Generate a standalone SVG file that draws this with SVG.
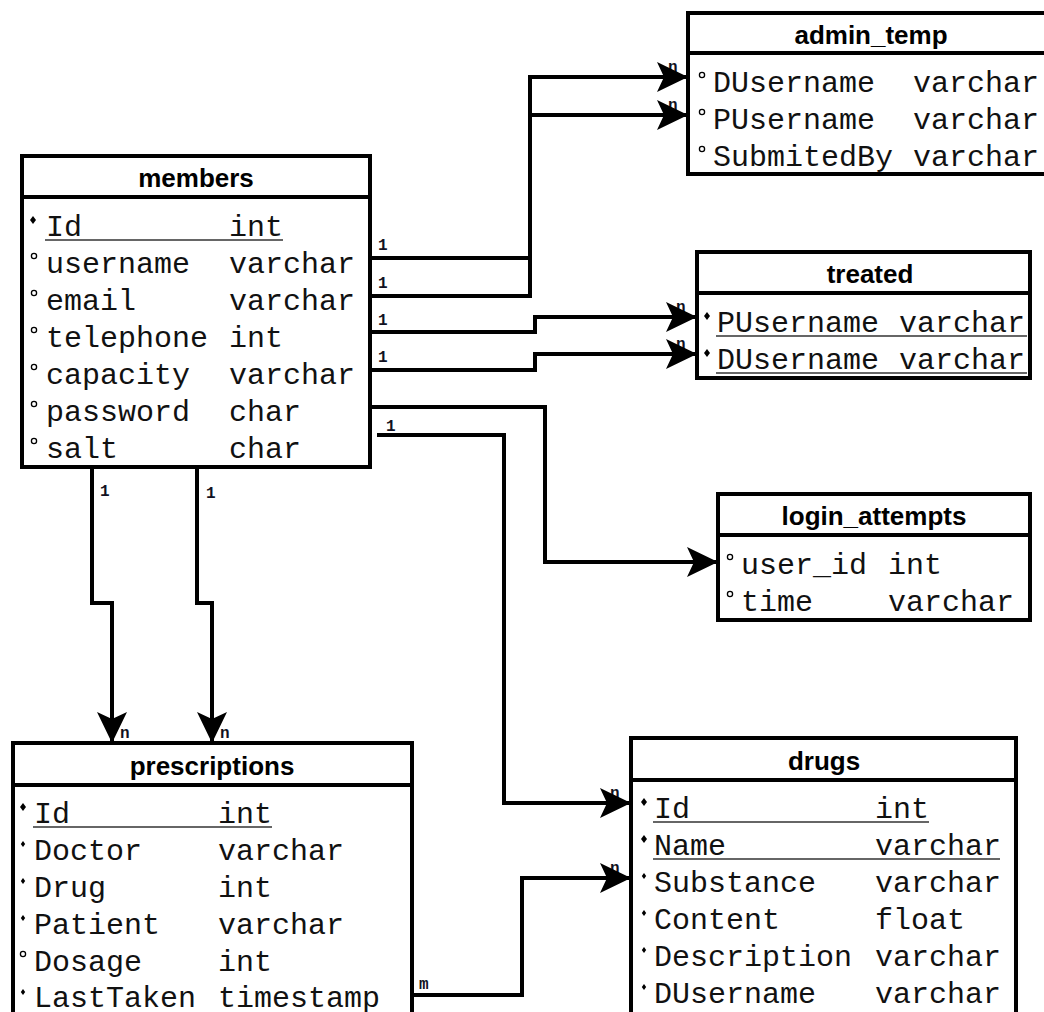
<svg xmlns="http://www.w3.org/2000/svg" width="1044" height="1012" viewBox="0 0 1044 1012">
<style>
.box{fill:#fff;stroke:#000;stroke-width:4}
.sep{stroke:#000;stroke-width:4}
.title{font-family:"Liberation Sans",Arial,sans-serif;font-weight:bold;font-size:26px;fill:#000;text-anchor:middle}
.row{font-family:"Liberation Mono","Courier New",monospace;font-size:30px;fill:#111}
.ul{stroke:#333;stroke-width:1.5}
.pk{fill:#000}
.nn{fill:#000}
.nul{fill:none;stroke:#000;stroke-width:1.3}
.conn{fill:none;stroke:#000;stroke-width:4}
.lbl{font-family:"Liberation Mono","Courier New",monospace;font-weight:bold;font-size:16px;fill:#112}
</style>
<defs>
<marker id="ah" markerUnits="userSpaceOnUse" markerWidth="34" markerHeight="32" refX="32" refY="16" orient="auto">
<path d="M32,16 L1,1 L8,16 L1,31 Z" fill="#000"/>
</marker>
<path id="dia" d="M0,-4 L3,0 L0,4 L-3,0 Z"/>
<path id="sdia" d="M0,-3 L2.2,0 L0,3 L-2.2,0 Z"/>
</defs>

<g id="labels">
<text class="lbl" x="378" y="250">1</text>
<text class="lbl" x="378" y="288">1</text>
<text class="lbl" x="378" y="325">1</text>
<text class="lbl" x="378" y="362">1</text>
<text class="lbl" x="386" y="431">1</text>
<text class="lbl" x="100" y="496">1</text>
<text class="lbl" x="206" y="498">1</text>
<text class="lbl" x="120" y="738">n</text>
<text class="lbl" x="220" y="738">n</text>
<text class="lbl" x="419" y="989">m</text>
<text class="lbl" x="668" y="72">n</text>
<text class="lbl" x="668" y="110">n</text>
<text class="lbl" x="676" y="312">n</text>
<text class="lbl" x="676" y="349">n</text>
<text class="lbl" x="610" y="798">n</text>
<text class="lbl" x="610" y="873">n</text>
</g>

<g id="connectors">
<path class="conn" d="M370,258 H530 V77 H688" marker-end="url(#ah)"/>
<path class="conn" d="M370,296 H530 V115 H688" marker-end="url(#ah)"/>
<path class="conn" d="M370,332 H535 V317 H697" marker-end="url(#ah)"/>
<path class="conn" d="M370,370 H535 V354 H697" marker-end="url(#ah)"/>
<path class="conn" d="M370,407 H545 V562 H718" marker-end="url(#ah)"/>
<path class="conn" d="M377,435 H504 V803 H631" marker-end="url(#ah)"/>
<path class="conn" d="M92,467 V603 H112 V743" marker-end="url(#ah)"/>
<path class="conn" d="M197,467 V603 H212 V743" marker-end="url(#ah)"/>
<path class="conn" d="M412,995 H522 V878 H631" marker-end="url(#ah)"/>
</g>

<g id="members">
<rect class="box" x="22" y="156" width="348" height="311"/>
<line class="sep" x1="22" y1="197" x2="370" y2="197"/>
<text class="title" x="196" y="187">members</text>
<use href="#dia" x="33" y="220" class="pk"/>
<text class="row" x="46" y="236">Id</text><text class="row" x="229" y="236">int</text>
<line class="ul" x1="45" y1="240" x2="283" y2="240"/>
<circle class="nul" cx="34" cy="256" r="2.6"/>
<text class="row" x="46" y="273">username</text><text class="row" x="229" y="273">varchar</text>
<circle class="nul" cx="34" cy="293" r="2.6"/>
<text class="row" x="46" y="310">email</text><text class="row" x="229" y="310">varchar</text>
<circle class="nul" cx="34" cy="330" r="2.6"/>
<text class="row" x="46" y="347">telephone</text><text class="row" x="229" y="347">int</text>
<circle class="nul" cx="34" cy="367" r="2.6"/>
<text class="row" x="46" y="384">capacity</text><text class="row" x="229" y="384">varchar</text>
<circle class="nul" cx="34" cy="404" r="2.6"/>
<text class="row" x="46" y="421">password</text><text class="row" x="229" y="421">char</text>
<circle class="nul" cx="34" cy="441" r="2.6"/>
<text class="row" x="46" y="458">salt</text><text class="row" x="229" y="458">char</text>
</g>

<g id="admin_temp">
<rect class="box" x="688" y="13" width="370" height="161"/>
<line class="sep" x1="688" y1="53" x2="1058" y2="53"/>
<text class="title" x="871" y="44">admin_temp</text>
<circle class="nul" cx="702" cy="75" r="2.6"/>
<text class="row" x="713" y="92">DUsername</text><text class="row" x="913" y="92">varchar</text>
<circle class="nul" cx="702" cy="112" r="2.6"/>
<text class="row" x="713" y="129">PUsername</text><text class="row" x="913" y="129">varchar</text>
<circle class="nul" cx="702" cy="149" r="2.6"/>
<text class="row" x="713" y="166">SubmitedBy</text><text class="row" x="913" y="166">varchar</text>
</g>

<g id="treated">
<rect class="box" x="697" y="252" width="333" height="126"/>
<line class="sep" x1="697" y1="293" x2="1030" y2="293"/>
<text class="title" x="870" y="283">treated</text>
<use href="#dia" x="707" y="316" class="pk"/>
<text class="row" x="717" y="332">PUsername</text><text class="row" x="899" y="332">varchar</text>
<line class="ul" x1="716" y1="336" x2="1027" y2="336"/>
<use href="#dia" x="707" y="353" class="pk"/>
<text class="row" x="717" y="369">DUsername</text><text class="row" x="899" y="369">varchar</text>
<line class="ul" x1="716" y1="373" x2="1027" y2="373"/>
</g>

<g id="login_attempts">
<rect class="box" x="718" y="494" width="312" height="126"/>
<line class="sep" x1="718" y1="535" x2="1030" y2="535"/>
<text class="title" x="874" y="525">login_attempts</text>
<circle class="nul" cx="730" cy="557" r="2.6"/>
<text class="row" x="741" y="574">user_id</text><text class="row" x="888" y="574">int</text>
<circle class="nul" cx="730" cy="594" r="2.6"/>
<text class="row" x="741" y="611">time</text><text class="row" x="888" y="611">varchar</text>
</g>

<g id="prescriptions">
<rect class="box" x="13" y="743" width="399" height="290"/>
<line class="sep" x1="13" y1="785" x2="412" y2="785"/>
<text class="title" x="212" y="775">prescriptions</text>
<use href="#dia" x="23" y="807" class="pk"/>
<text class="row" x="34" y="823">Id</text><text class="row" x="218" y="823">int</text>
<line class="ul" x1="33" y1="827" x2="272" y2="827"/>
<use href="#sdia" x="23" y="844" class="nn"/>
<text class="row" x="34" y="860">Doctor</text><text class="row" x="218" y="860">varchar</text>
<use href="#sdia" x="23" y="881" class="nn"/>
<text class="row" x="34" y="897">Drug</text><text class="row" x="218" y="897">int</text>
<use href="#sdia" x="23" y="918" class="nn"/>
<text class="row" x="34" y="934">Patient</text><text class="row" x="218" y="934">varchar</text>
<circle class="nul" cx="23" cy="954" r="2.6"/>
<text class="row" x="34" y="971">Dosage</text><text class="row" x="218" y="971">int</text>
<use href="#sdia" x="23" y="992" class="nn"/>
<text class="row" x="34" y="1007">LastTaken</text><text class="row" x="218" y="1007">timestamp</text>
</g>

<g id="drugs">
<rect class="box" x="631" y="738" width="385" height="290"/>
<line class="sep" x1="631" y1="780" x2="1016" y2="780"/>
<text class="title" x="824" y="770">drugs</text>
<use href="#dia" x="644" y="802" class="pk"/>
<text class="row" x="654" y="818">Id</text><text class="row" x="875" y="818">int</text>
<line class="ul" x1="653" y1="822" x2="929" y2="822"/>
<use href="#dia" x="644" y="839" class="pk"/>
<text class="row" x="654" y="855">Name</text><text class="row" x="875" y="855">varchar</text>
<line class="ul" x1="653" y1="859" x2="1000" y2="859"/>
<use href="#sdia" x="644" y="876" class="nn"/>
<text class="row" x="654" y="892">Substance</text><text class="row" x="875" y="892">varchar</text>
<use href="#sdia" x="644" y="913" class="nn"/>
<text class="row" x="654" y="929">Content</text><text class="row" x="875" y="929">float</text>
<use href="#sdia" x="644" y="950" class="nn"/>
<text class="row" x="654" y="966">Description</text><text class="row" x="875" y="966">varchar</text>
<use href="#sdia" x="644" y="987" class="nn"/>
<text class="row" x="654" y="1003">DUsername</text><text class="row" x="875" y="1003">varchar</text>
</g>
</svg>
